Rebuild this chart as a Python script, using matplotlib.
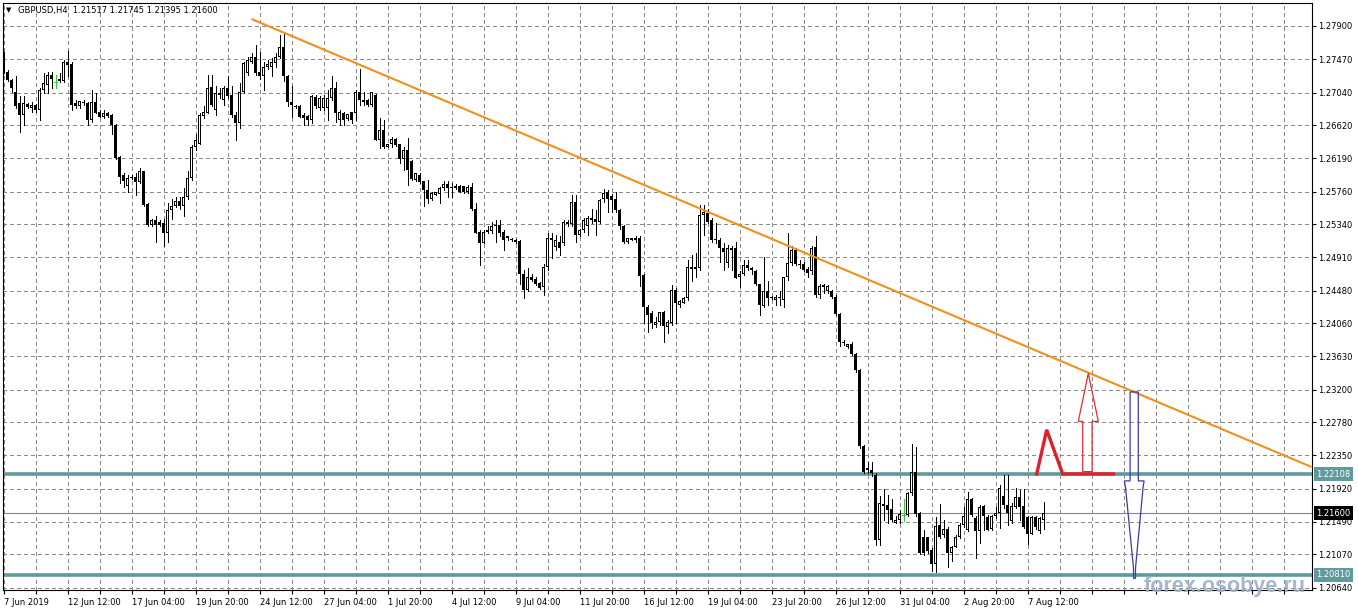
import numpy as np
import matplotlib
matplotlib.use('Agg')
import matplotlib.pyplot as plt
import matplotlib.transforms as mtransforms
from matplotlib.patches import Polygon

# ---- data (H4 bars, index 0 = 7 Jun 2019 20:00) ----
header = 'GBPUSD,H4  1.21517 1.21745 1.21395 1.21600'

opens = [
    1.2753, 1.2731, 1.2720, 1.2705, 1.2690, 1.2675, 1.2689, 1.2684, 1.2688, 1.2682,
    1.2707, 1.2714, 1.2727, 1.2718, 1.2722, 1.2719, 1.2744, 1.2741, 1.2690, 1.2686,
    1.2692, 1.2691, 1.2669, 1.2692, 1.2679, 1.2673, 1.2678, 1.2675, 1.2662, 1.2621,
    1.2597, 1.2583, 1.2595, 1.2595, 1.2588, 1.2602, 1.2560, 1.2533, 1.2539, 1.2537,
    1.2535, 1.2522, 1.2552, 1.2557, 1.2564, 1.2557, 1.2569, 1.2593, 1.2633, 1.2638,
    1.2674, 1.2678, 1.2711, 1.2682, 1.2704, 1.2694, 1.2710, 1.2701, 1.2675, 1.2664,
    1.2705, 1.2729, 1.2744, 1.2750, 1.2730, 1.2725, 1.2737, 1.2737, 1.2742, 1.2750,
    1.2763, 1.2725, 1.2692, 1.2687, 1.2686, 1.2675, 1.2674, 1.2669, 1.2698, 1.2684,
    1.2684, 1.2684, 1.2697, 1.2710, 1.2669, 1.2677, 1.2670, 1.2679, 1.2677, 1.2705,
    1.2692, 1.2694, 1.2688, 1.2701, 1.2643, 1.2655, 1.2634, 1.2637, 1.2644, 1.2637,
    1.2618, 1.2630, 1.2616, 1.2591, 1.2598, 1.2589, 1.2578, 1.2567, 1.2572, 1.2573,
    1.2580, 1.2586, 1.2582, 1.2580, 1.2583, 1.2583, 1.2576, 1.2582, 1.2554, 1.2524,
    1.2510, 1.2526, 1.2525, 1.2533, 1.2533, 1.2524, 1.2518, 1.2513, 1.2514, 1.2512,
    1.2470, 1.2449, 1.2466, 1.2463, 1.2458, 1.2453, 1.2479, 1.2516, 1.2504, 1.2511,
    1.2509, 1.2536, 1.2534, 1.2562, 1.2520, 1.2526, 1.2531, 1.2542, 1.2540, 1.2537,
    1.2566, 1.2575, 1.2570, 1.2566, 1.2552, 1.2532, 1.2511, 1.2513, 1.2516, 1.2516,
    1.2468, 1.2427, 1.2419, 1.2404, 1.2408, 1.2420, 1.2401, 1.2406, 1.2449, 1.2429,
    1.2432, 1.2438, 1.2479, 1.2476, 1.2477, 1.2546, 1.2548, 1.2539, 1.2514, 1.2514,
    1.2503, 1.2484, 1.2501, 1.2503, 1.2465, 1.2470, 1.2481, 1.2475, 1.2473, 1.2457,
    1.2428, 1.2448, 1.2438, 1.2436, 1.2438, 1.2436, 1.2465, 1.2484, 1.2501, 1.2481,
    1.2483, 1.2476, 1.2473, 1.2504, 1.2442, 1.2455, 1.2447, 1.2448, 1.2440, 1.2418,
    1.2382, 1.2375, 1.2379, 1.2366, 1.2345, 1.2247, 1.2219, 1.2216, 1.2210, 1.2126,
    1.2172, 1.2171, 1.2166, 1.2148, 1.2152, 1.2158, 1.2158, 1.2187, 1.2213, 1.2161,
    1.2129, 1.2129, 1.2113, 1.2095, 1.2145, 1.2132, 1.2140, 1.2109, 1.2117, 1.2129,
    1.2145, 1.2139, 1.2178, 1.2154, 1.2137, 1.2169, 1.2155, 1.2140, 1.2156, 1.2160,
    1.2183, 1.2171, 1.2150, 1.2168, 1.2181, 1.2170, 1.2155, 1.2134, 1.2155, 1.2137,
    1.21517]

highs = [
    1.2756, 1.2733, 1.2721, 1.2725, 1.2699, 1.2699, 1.2691, 1.2692, 1.2689, 1.2710,
    1.2729, 1.2731, 1.2731, 1.2727, 1.2729, 1.2746, 1.2758, 1.2743, 1.2694, 1.2693,
    1.2694, 1.2692, 1.2707, 1.2703, 1.2681, 1.2681, 1.2679, 1.2676, 1.2663, 1.2622,
    1.2600, 1.2597, 1.2597, 1.2600, 1.2606, 1.2603, 1.2561, 1.2541, 1.2544, 1.2539,
    1.2541, 1.2561, 1.2567, 1.2569, 1.2569, 1.2580, 1.2602, 1.2636, 1.2651, 1.2677,
    1.2686, 1.2727, 1.2727, 1.2712, 1.2710, 1.2712, 1.2725, 1.2712, 1.2679, 1.2716,
    1.2744, 1.2750, 1.2755, 1.2766, 1.2757, 1.2744, 1.2746, 1.2748, 1.2755, 1.2778,
    1.2781, 1.2727, 1.2712, 1.2688, 1.2688, 1.2677, 1.2675, 1.2701, 1.2701, 1.2699,
    1.2701, 1.2707, 1.2725, 1.2718, 1.2681, 1.2679, 1.2676, 1.2679, 1.2707, 1.2734,
    1.2705, 1.2695, 1.2705, 1.2702, 1.2671, 1.2669, 1.2638, 1.2647, 1.2645, 1.2638,
    1.2634, 1.2645, 1.2617, 1.2600, 1.2600, 1.2590, 1.2591, 1.2576, 1.2576, 1.2582,
    1.2589, 1.2589, 1.2587, 1.2586, 1.2584, 1.2583, 1.2585, 1.2587, 1.2561, 1.2526,
    1.2526, 1.2531, 1.2537, 1.2539, 1.2539, 1.2526, 1.2519, 1.2516, 1.2515, 1.2513,
    1.2475, 1.2477, 1.2470, 1.2465, 1.2459, 1.2483, 1.2522, 1.2522, 1.2520, 1.2519,
    1.2539, 1.2539, 1.2572, 1.2572, 1.2528, 1.2542, 1.2544, 1.2554, 1.2552, 1.2567,
    1.2579, 1.2578, 1.2573, 1.2576, 1.2553, 1.2533, 1.2516, 1.2516, 1.2518, 1.2518,
    1.2470, 1.2429, 1.2421, 1.2414, 1.2420, 1.2421, 1.2410, 1.2455, 1.2451, 1.2436,
    1.2440, 1.2488, 1.2494, 1.2496, 1.2559, 1.2559, 1.2554, 1.2542, 1.2535, 1.2516,
    1.2509, 1.2507, 1.2505, 1.2511, 1.2473, 1.2488, 1.2488, 1.2479, 1.2475, 1.2457,
    1.2492, 1.2460, 1.2441, 1.2442, 1.2447, 1.2465, 1.2523, 1.2505, 1.2503, 1.2488,
    1.2485, 1.2479, 1.2505, 1.2518, 1.2457, 1.2457, 1.2455, 1.2449, 1.2442, 1.2419,
    1.2384, 1.2379, 1.2382, 1.2367, 1.2346, 1.2249, 1.2227, 1.2227, 1.2212, 1.2182,
    1.2191, 1.2184, 1.2178, 1.2156, 1.2165, 1.2178, 1.2188, 1.2250, 1.2246, 1.2162,
    1.2139, 1.2130, 1.2115, 1.2155, 1.2172, 1.2152, 1.2142, 1.2118, 1.2132, 1.2147,
    1.2168, 1.2188, 1.2180, 1.2156, 1.2171, 1.2171, 1.2158, 1.2158, 1.2168, 1.2197,
    1.2209, 1.2209, 1.2173, 1.2193, 1.2190, 1.2191, 1.2157, 1.2157, 1.2157, 1.2155,
    1.21745]

lows = [
    1.2729, 1.2719, 1.2705, 1.2684, 1.2653, 1.2662, 1.2684, 1.2679, 1.2679, 1.2669,
    1.2703, 1.2703, 1.2710, 1.2710, 1.2718, 1.2718, 1.2725, 1.2681, 1.2684, 1.2684,
    1.2688, 1.2662, 1.2666, 1.2677, 1.2672, 1.2671, 1.2673, 1.2651, 1.2618, 1.2587,
    1.2582, 1.2576, 1.2592, 1.2572, 1.2587, 1.2557, 1.2532, 1.2531, 1.2511, 1.2531,
    1.2505, 1.2511, 1.2541, 1.2556, 1.2554, 1.2544, 1.2567, 1.2591, 1.2630, 1.2637,
    1.2671, 1.2677, 1.2686, 1.2675, 1.2697, 1.2688, 1.2697, 1.2673, 1.2643, 1.2658,
    1.2703, 1.2727, 1.2742, 1.2727, 1.2722, 1.2707, 1.2735, 1.2725, 1.2737, 1.2748,
    1.2719, 1.2686, 1.2673, 1.2684, 1.2672, 1.2662, 1.2662, 1.2664, 1.2684, 1.2681,
    1.2681, 1.2669, 1.2694, 1.2666, 1.2662, 1.2662, 1.2669, 1.2664, 1.2669, 1.2688,
    1.2688, 1.2687, 1.2686, 1.2643, 1.2632, 1.2632, 1.2633, 1.2634, 1.2635, 1.2613,
    1.2604, 1.2585, 1.2591, 1.2590, 1.2587, 1.2557, 1.2561, 1.2565, 1.2571, 1.2561,
    1.2578, 1.2569, 1.2569, 1.2579, 1.2575, 1.2574, 1.2574, 1.2552, 1.2522, 1.2481,
    1.2509, 1.2522, 1.2522, 1.2511, 1.2518, 1.2500, 1.2514, 1.2512, 1.2510, 1.2457,
    1.2438, 1.2448, 1.2460, 1.2455, 1.2450, 1.2442, 1.2475, 1.2490, 1.2500, 1.2494,
    1.2507, 1.2531, 1.2531, 1.2511, 1.2518, 1.2524, 1.2520, 1.2535, 1.2520, 1.2535,
    1.2563, 1.2550, 1.2550, 1.2550, 1.2527, 1.2510, 1.2510, 1.2513, 1.2511, 1.2454,
    1.2406, 1.2395, 1.2399, 1.2401, 1.2404, 1.2382, 1.2393, 1.2404, 1.2406, 1.2427,
    1.2432, 1.2436, 1.2460, 1.2466, 1.2475, 1.2520, 1.2535, 1.2511, 1.2509, 1.2485,
    1.2475, 1.2479, 1.2475, 1.2464, 1.2453, 1.2468, 1.2475, 1.2470, 1.2455, 1.2417,
    1.2427, 1.2429, 1.2437, 1.2429, 1.2429, 1.2427, 1.2462, 1.2481, 1.2481, 1.2477,
    1.2473, 1.2466, 1.2470, 1.2440, 1.2438, 1.2445, 1.2445, 1.2438, 1.2417, 1.2376,
    1.2378, 1.2374, 1.2365, 1.2343, 1.2244, 1.2212, 1.2212, 1.2208, 1.2119, 1.2119,
    1.2152, 1.2147, 1.2150, 1.2147, 1.2147, 1.2150, 1.2156, 1.2184, 1.2156, 1.2108,
    1.2106, 1.2109, 1.2085, 1.2084, 1.2128, 1.2130, 1.2091, 1.2098, 1.2116, 1.2128,
    1.2143, 1.2137, 1.2156, 1.2103, 1.2122, 1.2139, 1.2138, 1.2138, 1.2154, 1.2141,
    1.2167, 1.2145, 1.2148, 1.2167, 1.2152, 1.2141, 1.2121, 1.2134, 1.2140, 1.2135,
    1.21395]

closes = [
    1.2731, 1.2720, 1.2710, 1.2686, 1.2675, 1.2690, 1.2685, 1.2688, 1.2681, 1.2707,
    1.2716, 1.2727, 1.2721, 1.2718, 1.2719, 1.2743, 1.2740, 1.2688, 1.2687, 1.2693,
    1.2690, 1.2669, 1.2692, 1.2678, 1.2673, 1.2677, 1.2674, 1.2662, 1.2619, 1.2595,
    1.2589, 1.2594, 1.2593, 1.2588, 1.2602, 1.2558, 1.2533, 1.2539, 1.2533, 1.2533,
    1.2522, 1.2552, 1.2557, 1.2564, 1.2557, 1.2569, 1.2593, 1.2634, 1.2643, 1.2675,
    1.2679, 1.2710, 1.2688, 1.2704, 1.2701, 1.2710, 1.2700, 1.2675, 1.2664, 1.2705,
    1.2742, 1.2746, 1.2750, 1.2729, 1.2725, 1.2737, 1.2741, 1.2744, 1.2750, 1.2763,
    1.2725, 1.2692, 1.2688, 1.2685, 1.2673, 1.2671, 1.2669, 1.2699, 1.2686, 1.2697,
    1.2697, 1.2697, 1.2710, 1.2677, 1.2679, 1.2669, 1.2676, 1.2669, 1.2705, 1.2694,
    1.2694, 1.2688, 1.2705, 1.2643, 1.2655, 1.2634, 1.2637, 1.2644, 1.2636, 1.2618,
    1.2630, 1.2604, 1.2592, 1.2600, 1.2588, 1.2578, 1.2567, 1.2574, 1.2575, 1.2580,
    1.2586, 1.2580, 1.2580, 1.2583, 1.2576, 1.2576, 1.2582, 1.2554, 1.2523, 1.2510,
    1.2524, 1.2524, 1.2531, 1.2531, 1.2523, 1.2513, 1.2516, 1.2514, 1.2511, 1.2470,
    1.2449, 1.2466, 1.2462, 1.2457, 1.2451, 1.2479, 1.2516, 1.2513, 1.2513, 1.2503,
    1.2536, 1.2534, 1.2562, 1.2520, 1.2526, 1.2539, 1.2542, 1.2539, 1.2537, 1.2565,
    1.2574, 1.2567, 1.2565, 1.2552, 1.2531, 1.2511, 1.2516, 1.2516, 1.2513, 1.2467,
    1.2427, 1.2417, 1.2406, 1.2408, 1.2420, 1.2402, 1.2408, 1.2449, 1.2432, 1.2434,
    1.2438, 1.2479, 1.2476, 1.2478, 1.2546, 1.2549, 1.2537, 1.2513, 1.2513, 1.2503,
    1.2498, 1.2503, 1.2503, 1.2464, 1.2470, 1.2481, 1.2477, 1.2477, 1.2457, 1.2429,
    1.2448, 1.2438, 1.2440, 1.2440, 1.2440, 1.2465, 1.2484, 1.2501, 1.2483, 1.2483,
    1.2475, 1.2471, 1.2503, 1.2442, 1.2454, 1.2453, 1.2454, 1.2440, 1.2418, 1.2382,
    1.2380, 1.2379, 1.2366, 1.2345, 1.2247, 1.2214, 1.2216, 1.2212, 1.2126, 1.2173,
    1.2170, 1.2165, 1.2152, 1.2152, 1.2159, 1.2158, 1.2187, 1.2213, 1.2159, 1.2109,
    1.2109, 1.2112, 1.2095, 1.2144, 1.2130, 1.2140, 1.2109, 1.2117, 1.2129, 1.2145,
    1.2157, 1.2178, 1.2158, 1.2137, 1.2168, 1.2156, 1.2139, 1.2156, 1.2160, 1.2193,
    1.2171, 1.2160, 1.2170, 1.2181, 1.2168, 1.2143, 1.2134, 1.2155, 1.2142, 1.2154,
    1.21600]

date_labels = ['7 Jun 2019', '12 Jun 12:00', '17 Jun 04:00', '19 Jun 20:00',
               '24 Jun 12:00', '27 Jun 04:00', '1 Jul 20:00', '4 Jul 12:00',
               '9 Jul 04:00', '11 Jul 20:00', '16 Jul 12:00', '19 Jul 04:00',
               '23 Jul 20:00', '26 Jul 12:00', '31 Jul 04:00', '2 Aug 20:00',
               '7 Aug 12:00']
price_ticks = [1.27900, 1.27470, 1.27040, 1.26620, 1.26190, 1.25760, 1.25340,
               1.24910, 1.24480, 1.24060, 1.23630, 1.23200, 1.22780, 1.22350,
               1.21920, 1.21490, 1.21070, 1.20640]

levels = [1.22108, 1.20810]
last_price = 1.21600

# trend line (bar index, price)
trend_x = [62, 327]
trend_y = [1.2799, 1.2220]

# hand drawn marks (bar index, price)
peak_x = [258.3, 260.8, 264.8, 277.5]
peak_y = [1.2211, 1.2268, 1.2211, 1.2211]
up_arrow_x = [269.8, 269.8, 268.7, 271.2, 273.7, 272.15, 272.15]
up_arrow_y = [1.2214, 1.2279, 1.2279, 1.2341, 1.2279, 1.2279, 1.2214]
down_arrow_x = [281.65, 283.7, 283.7, 285.15, 284.9, 283.0, 283.0, 282.5, 282.5, 280.5, 280.2, 281.65]
down_arrow_y = [1.2317, 1.2317, 1.2202, 1.2202, 1.2194, 1.2089, 1.2076, 1.2076, 1.2089, 1.2194, 1.2202, 1.2202]

# ---- figure ----
W, H = 1358, 611
fig = plt.figure(figsize=(W / 100, H / 100), dpi=100)
ax = fig.add_axes([2.5 / W, 21 / H, 1309.5 / W, 587 / H])
# bar b sits at pixel column 3.5 + 4 b
ax.set_xlim(-0.25, 327.125)
ax.set_ylim(1.20610, 1.28197)
px = (1.28197 - 1.20610) / 587   # price per pixel

grid_col = '#8a8a8a'
teal = '#5f9a9c'

# grid
for gx in range(0, 328, 8):
    ax.axvline(gx, color=grid_col, lw=0.72, ls=(0, (4, 3)), zorder=0, antialiased=False)
for gy in price_ticks:
    ax.axhline(gy, color=grid_col, lw=0.72, ls=(0, (4, 3)), zorder=0, antialiased=False)

# levels
ax.axhline(last_price, color='#7d8b90', lw=0.8, zorder=1)
for lv in levels:
    ax.axhline(lv, color=teal, lw=2.6, zorder=2)

# candles
o = np.array(opens)
h = np.array(highs)
l = np.array(lows)
c = np.array(closes)
x = np.arange(len(o))
bull = c > o
doji = c == o
body = ~doji
wick_cols = np.where(doji, '#3cc83c', 'black')
ax.vlines(x, l, h, colors=wick_cols, lw=0.72, zorder=4, antialiased=False)
bottom = np.minimum(o, c)
height = np.maximum(np.abs(c - o), px)
ax.bar(x[body], height[body], bottom=bottom[body], width=0.75, color='black',
       lw=0, zorder=5, antialiased=False)
hollow = bull & (height > 2.2 * px)
ax.bar(x[hollow], height[hollow] - 2 * px, bottom=bottom[hollow] + px, width=0.25,
       color='white', lw=0, zorder=6, antialiased=False)
ax.hlines(o[doji], x[doji] - 0.375, x[doji] + 0.375, colors='#3cc83c', lw=0.72,
          zorder=5, antialiased=False)

# trend line and drawings
ax.plot(trend_x, trend_y, color='#f0901c', lw=1.5, zorder=7, solid_capstyle='butt')
ax.plot(peak_x, peak_y, color='#dc2228', lw=2.4, zorder=7, solid_joinstyle='miter')
ax.add_patch(Polygon(np.column_stack([up_arrow_x, up_arrow_y]), closed=True,
                     fill=False, ec='#d83034', lw=0.9, zorder=7))
ax.add_patch(Polygon(np.column_stack([down_arrow_x, down_arrow_y]), closed=True,
                     fill=False, ec='#3c3ca0', lw=0.9, zorder=7))

# axes styling
for sp in ax.spines.values():
    sp.set_color('black')
    sp.set_linewidth(0.8)
ax.yaxis.tick_right()
ax.set_yticks(price_ticks)
ax.set_yticklabels([f'{v:.5f}' for v in price_ticks])
xt = list(range(0, 328, 8))
ax.set_xticks(xt)
ax.set_xticklabels([date_labels[k // 2] if k % 2 == 0 and k // 2 < len(date_labels) else ''
                    for k in range(len(xt))])
ax.tick_params(axis='both', direction='out', length=3, width=0.8, labelsize=6,
               colors='black', pad=1.5)
ax.tick_params(axis='x', pad=2.5)
for lab in ax.get_xticklabels():
    lab.set_ha('left')

# price labels on the scale
trans = mtransforms.blended_transform_factory(ax.transAxes, ax.transData)
for lv, bg in [(levels[0], teal), (levels[1], teal), (last_price, 'black')]:
    ax.text(1.0 + 4 / 1309.5, lv, f'{lv:.5f}', transform=trans, color='white', fontsize=6,
            va='center', ha='left', clip_on=False, zorder=8,
            bbox=dict(boxstyle='square,pad=0.3', fc=bg, ec='none'))

# header
fig.text(6 / W, 1 - 10.5 / H, '\u25bc', fontsize=5, va='center', ha='left')
fig.text(18 / W, 1 - 10.5 / H, header, fontsize=6, va='center', ha='left')

# watermark
fig.text(1144 / W, (H - 592) / H, 'forex.osobye.ru', fontsize=15.5, fontweight='bold',
         family='Liberation Sans', color='#9db0c8', alpha=0.9, va='baseline', ha='left', zorder=10)

fig.savefig('out.png', dpi=100, facecolor='white')
